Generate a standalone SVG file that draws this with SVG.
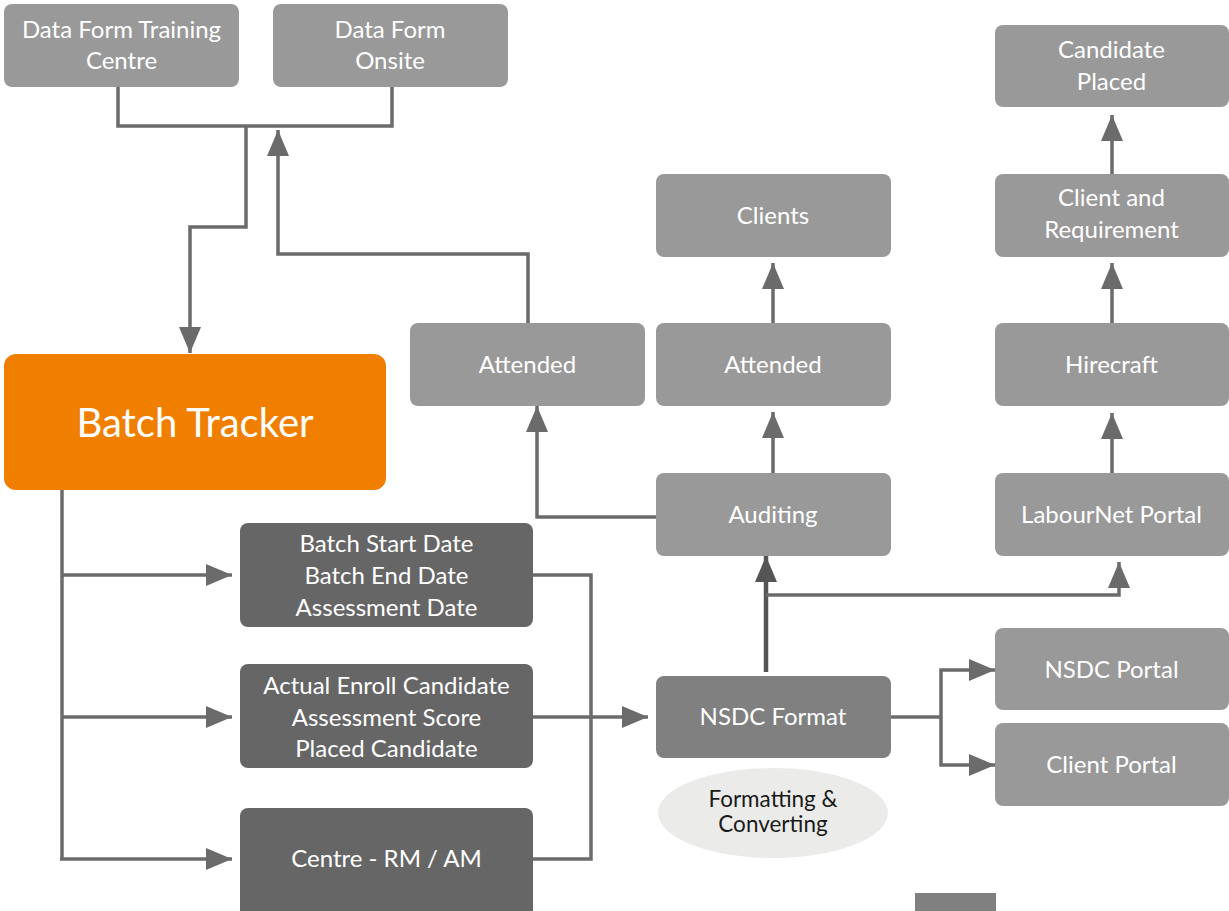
<svg xmlns="http://www.w3.org/2000/svg" width="1229" height="911" viewBox="0 0 1229 911">
<style>
.box{fill:#999999}
.dark{fill:#666666}
.mid{fill:#808080}
.t{font-family:Lato,"Open Sans","Liberation Sans",sans-serif;font-size:24px;fill:#ffffff;text-anchor:middle}
.c{fill:none;stroke:#6b6b6b;stroke-width:3.5;stroke-linejoin:miter}
.ct{fill:none;stroke:#555555;stroke-width:4.5}
</style>
<defs>
<marker id="ah" markerUnits="userSpaceOnUse" markerWidth="26" markerHeight="24" viewBox="0 0 26 22" refX="26" refY="11" orient="auto">
<path d="M0,0 L26,11 L0,22 Z" fill="#6b6b6b"/>
</marker>
<marker id="ahd" markerUnits="userSpaceOnUse" markerWidth="26" markerHeight="24" viewBox="0 0 26 22" refX="26" refY="11" orient="auto">
<path d="M0,0 L26,11 L0,22 Z" fill="#555555"/>
</marker>
</defs>
<rect width="1229" height="911" fill="#ffffff"/>

<g id="connectors">
<path class="c" d="M118,87 V126 H392 V87"/>
<path class="c" d="M246,126 V227 H190 V353" marker-end="url(#ah)"/>
<path class="c" d="M528,323 V254 H278 V130" marker-end="url(#ah)"/>
<path class="c" d="M62,490 V859"/>
<path class="c" d="M62,575 H232" marker-end="url(#ah)"/>
<path class="c" d="M62,717 H232" marker-end="url(#ah)"/>
<path class="c" d="M60,859 H232" marker-end="url(#ah)"/>
<path class="c" d="M533,575 H591 V859 H533"/>
<path class="c" d="M533,717 H648" marker-end="url(#ah)"/>
<path class="c" d="M890,717 H941"/>
<path class="c" d="M941,717 V670 H995" marker-end="url(#ah)"/>
<path class="c" d="M941,717 V765 H995" marker-end="url(#ah)"/>
<path class="ct" d="M766,672 V556" marker-end="url(#ahd)"/>
<path class="c" d="M766,595 H1119 V562" marker-end="url(#ah)"/>
<path class="c" d="M656,517 H537 V406" marker-end="url(#ah)"/>
<path class="c" d="M773,473 V412" marker-end="url(#ah)"/>
<path class="c" d="M773,323 V263" marker-end="url(#ah)"/>
<path class="c" d="M1112,473 V413" marker-end="url(#ah)"/>
<path class="c" d="M1112,323 V263" marker-end="url(#ah)"/>
<path class="c" d="M1112,174 V115" marker-end="url(#ah)"/>
</g>

<g id="n-dftc"><rect class="box" x="4" y="4" width="235" height="83" rx="8"/><text class="t" x="121.5" y="38">Data Form Training</text><text class="t" x="121.5" y="69">Centre</text></g>
<g id="n-dfo"><rect class="box" x="273" y="4" width="235" height="83" rx="8"/><text class="t" x="390" y="38">Data Form</text><text class="t" x="390" y="69">Onsite</text></g>

<g id="n-batch"><rect x="4" y="354" width="382" height="136" rx="12" fill="#f07f00"/><text class="t" x="195" y="437" style="font-size:40px">Batch Tracker</text></g>

<g id="n-dates"><rect class="dark" x="240" y="523" width="293" height="104" rx="8"/><text class="t" x="386.5" y="552">Batch Start Date</text><text class="t" x="386.5" y="584">Batch End Date</text><text class="t" x="386.5" y="616">Assessment Date</text></g>
<g id="n-enroll"><rect class="dark" x="240" y="664" width="293" height="104" rx="8"/><text class="t" x="386.5" y="694">Actual Enroll Candidate</text><text class="t" x="386.5" y="726">Assessment Score</text><text class="t" x="386.5" y="757">Placed Candidate</text></g>
<g id="n-centre"><rect class="dark" x="240" y="808" width="293" height="110" rx="8"/><text class="t" x="386.5" y="867">Centre - RM / AM</text></g>

<g id="n-att1"><rect class="box" x="410" y="323" width="235" height="83" rx="8"/><text class="t" x="527.5" y="373">Attended</text></g>
<g id="n-clients"><rect class="box" x="656" y="174" width="235" height="83" rx="8"/><text class="t" x="773" y="224">Clients</text></g>
<g id="n-att2"><rect class="box" x="656" y="323" width="235" height="83" rx="8"/><text class="t" x="773" y="373">Attended</text></g>
<g id="n-audit"><rect class="box" x="656" y="473" width="235" height="83" rx="8"/><text class="t" x="773" y="523">Auditing</text></g>
<g id="n-nsdcf"><rect class="mid" x="656" y="676" width="235" height="82" rx="8"/><text class="t" x="773" y="725">NSDC Format</text></g>
<g id="n-format"><ellipse cx="773" cy="813" rx="115" ry="45" fill="#ebecea"/><text class="t" x="773" y="807" style="fill:#1a1a1a;font-size:22.5px">Formatting &amp;</text><text class="t" x="773" y="832" style="fill:#1a1a1a;font-size:22.5px">Converting</text></g>

<g id="n-cand"><rect class="box" x="995" y="25" width="234" height="82" rx="8"/><text class="t" x="1111.5" y="58">Candidate</text><text class="t" x="1111.5" y="90">Placed</text></g>
<g id="n-creq"><rect class="box" x="995" y="174" width="234" height="83" rx="8"/><text class="t" x="1111.5" y="206">Client and</text><text class="t" x="1111.5" y="238">Requirement</text></g>
<g id="n-hire"><rect class="box" x="995" y="323" width="234" height="83" rx="8"/><text class="t" x="1111.5" y="373">Hirecraft</text></g>
<g id="n-labour"><rect class="box" x="995" y="473" width="234" height="83" rx="8"/><text class="t" x="1111.5" y="523">LabourNet Portal</text></g>
<g id="n-nsdcp"><rect class="box" x="995" y="628" width="234" height="82" rx="8"/><text class="t" x="1111.5" y="678">NSDC Portal</text></g>
<g id="n-clientp"><rect class="box" x="995" y="723" width="234" height="83" rx="8"/><text class="t" x="1111.5" y="773">Client Portal</text></g>

<rect x="915" y="893" width="81" height="20" fill="#808080"/>
</svg>
